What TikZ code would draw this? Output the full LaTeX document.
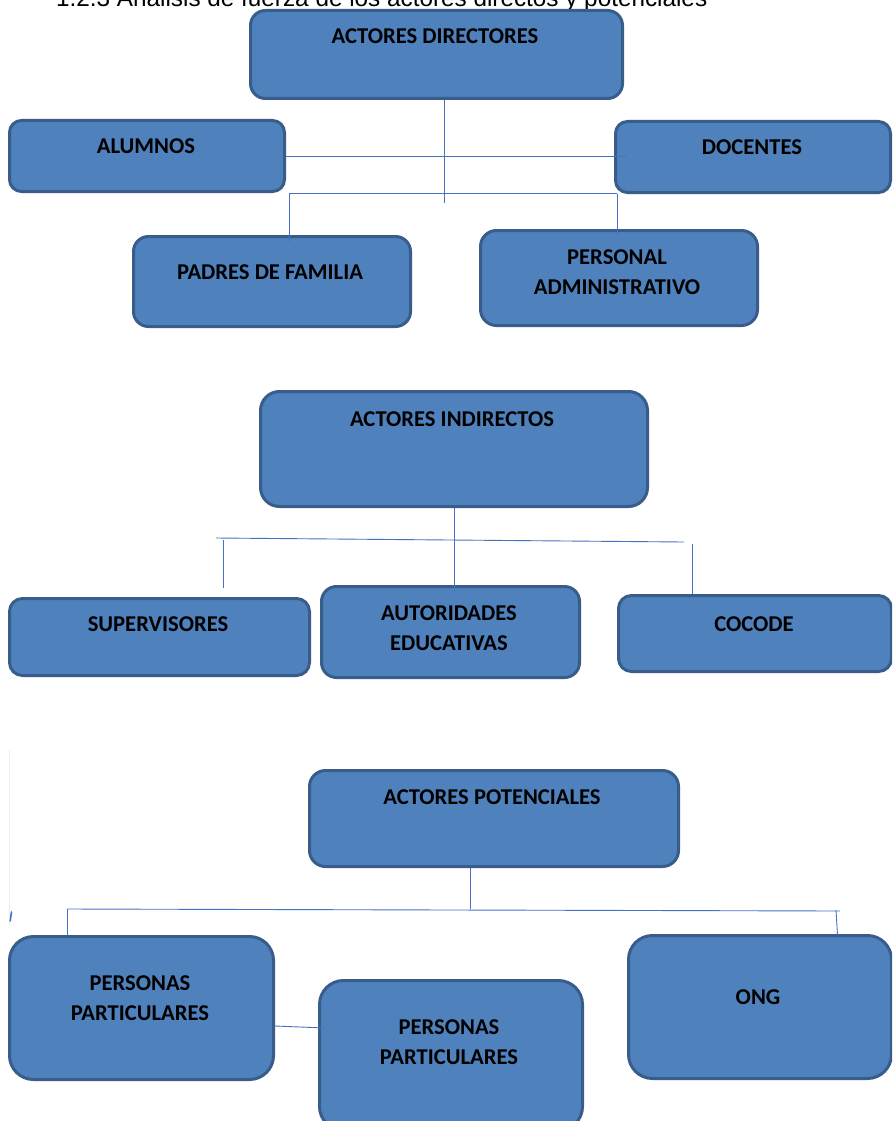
\documentclass[tikz,border=0pt]{standalone}
\usepackage{fontspec}
\setmainfont{Carlito}
\newfontfamily\headfont{Liberation Sans}
\definecolor{boxfill}{RGB}{79,129,189}
\definecolor{boxedge}{RGB}{56,93,138}
\definecolor{connblue}{RGB}{68,114,196}
\tikzset{
  box/.style={draw=boxedge, fill=boxfill, line width=3pt, anchor=north west, inner sep=0pt},
  conn/.style={draw=connblue, line width=0.9pt},
  lbl/.style={font=\fontsize{22.6}{30}\selectfont\bfseries, text=black, align=center, inner sep=0pt, anchor=center},
}
\begin{document}
\begin{tikzpicture}[x=1pt,y=-1pt]
\useasboundingbox (0,0) rectangle (892,1121);
\clip (0,0) rectangle (892,1121);
\fill[white] (0,0) rectangle (892,1121);

% heading (cut at top, as in the reference)
\node[font=\headfont\fontsize{24.3}{29}\selectfont, anchor=base west, inner sep=0pt] (head) at (56,7) {1.2.3 Análisis de fuerza de los actores directos y potenciales};

% ---- boxes: top group
\node[box, minimum width=372pt, minimum height=88pt, rounded corners=15pt] (dir) at (249,9) {};
\node[box, minimum width=275pt, minimum height=71pt, rounded corners=12pt] (alu) at (8,119) {};
\node[box, minimum width=275pt, minimum height=71pt, rounded corners=12pt] (doc) at (614,120) {};
\node[box, minimum width=277pt, minimum height=90pt, rounded corners=15pt] (pad) at (132,235) {};
\node[box, minimum width=277pt, minimum height=95pt, rounded corners=16pt] (per) at (479,229) {};
% ---- middle group
\node[box, minimum width=387pt, minimum height=115pt, rounded corners=19pt] (ind) at (259,390) {};
\node[box, minimum width=300pt, minimum height=77pt, rounded corners=13pt] (sup) at (8,597) {};
\node[box, minimum width=258pt, minimum height=91pt, rounded corners=15pt] (aut) at (320,585) {};
\node[box, minimum width=273pt, minimum height=76pt, rounded corners=13pt] (coc) at (617,594) {};
% ---- bottom group
\node[box, minimum width=369pt, minimum height=96pt, rounded corners=16pt] (pot) at (308,769) {};
\node[box, minimum width=264pt, minimum height=143pt, rounded corners=24pt] (ppa) at (8,935) {};
\node[box, minimum width=263pt, minimum height=150pt, rounded corners=24pt] (ppb) at (318,979) {};
\node[box, minimum width=263pt, minimum height=143pt, rounded corners=24pt] (ong) at (627,934) {};

% ---- connectors: top group
\coordinate (ja) at (444,203);
\draw[conn] (dir.south -| ja) -- (ja);
\coordinate (ba) at (626,156);
\draw[conn] (alu.east |- ba) -- (ba);
\coordinate (bl) at (289,193);
\coordinate (br) at (617,193);
\coordinate (bld) at (289,242);
\coordinate (brd) at (617,236);
\draw[conn] (bl) -- (br);
\draw[conn] (bl) -- (bld);
\draw[conn] (doc.south -| br) -- (brd);

% ---- connectors: middle group
\coordinate (mc) at (454,593);
\draw[conn] (ind.south -| mc) -- (mc);
\coordinate (ml) at (216,538);
\coordinate (mr) at (684,542);
\draw[conn] (ml) -- (mr);
\coordinate (mlt) at (223,540);
\coordinate (mld) at (223,588);
\draw[conn] (mlt) -- (mld);
\coordinate (mrt) at (692.5,544);
\draw[conn] (mrt) -- (coc.north -| mrt);

% ---- connectors: bottom group
\coordinate (pc) at (470,909);
\draw[conn] (pot.south -| pc) -- (pc);
\coordinate (pl) at (67,909);
\coordinate (pr) at (840,911);
\draw[conn] (pl) -- (pr);
\draw[conn] (pl) -- (ppa.north -| pl);
\coordinate (prt) at (836,910);
\coordinate (prd) at (837.5,935);
\draw[conn] (prt) -- (prd);
\coordinate (pe) at (325,1028);
\draw[conn] (ppa.east |- 0,1026) -- (pe);

% ---- small artefacts at the left edge
\draw[black!7, line width=0.5pt] (9.5,750) -- (9.5,925);
\draw[connblue, line width=1.6pt, line cap=round] (11.5,912) -- (10.2,921);

% ---- labels
\node[lbl] (tdir) at (435,36) {ACTORES DIRECTORES};
\node[lbl] (talu) at (146,146) {ALUMNOS};
\node[lbl] (tdoc) at (752,147) {DOCENTES};
\node[lbl] (tpad) at (270,272) {PADRES DE FAMILIA};
\node[lbl] (tper) at (617,272) {PERSONAL\\ADMINISTRATIVO};
\node[lbl] (tind) at (452,419) {ACTORES INDIRECTOS};
\node[lbl] (tsup) at (158,624) {SUPERVISORES};
\node[lbl] (taut) at (449,628) {AUTORIDADES\\EDUCATIVAS};
\node[lbl] (tcoc) at (754,624) {COCODE};
\node[lbl] (tpot) at (492,797) {ACTORES POTENCIALES};
\node[lbl] (tppa) at (140,998) {PERSONAS\\PARTICULARES};
\node[lbl] (tppb) at (449,1042) {PERSONAS\\PARTICULARES};
\node[lbl] (tong) at (758,997) {ONG};
\end{tikzpicture}
\end{document}
